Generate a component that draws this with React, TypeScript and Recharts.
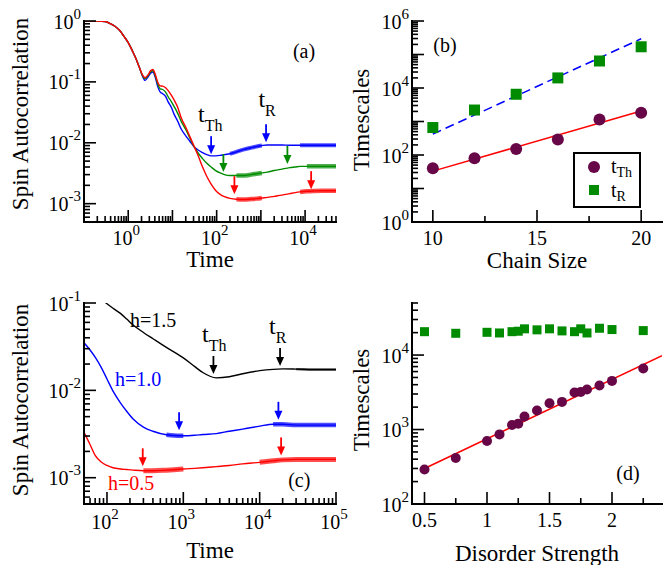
import React from "react";
import { ComposedChart, Line, Scatter, XAxis, YAxis, Legend } from "recharts";

const FONT = '"Liberation Serif", "Times New Roman", serif';
const BLUE = "#0000ff";
const GREEN = "#008b00";
const RED = "#ff0000";
const MAROON = "#670748";
const BLACK = "#000000";

// ---------- panel (a): autocorrelation vs time, three chain sizes ----------
const aTime = [0.1, 0.2, 0.3, 0.4, 0.5, 0.65, 0.8, 1, 1.25, 1.5, 1.8, 2.1, 2.4, 2.8, 3.2, 3.6, 4.1, 4.7, 5.3, 6, 7, 8, 9.5, 11, 13, 16, 20, 25, 30, 38, 48, 60, 75, 95, 120, 150, 200, 280, 400, 600, 800, 1050, 1400, 2000, 3000, 4500, 6000, 7700, 11000, 16000, 24000, 35000, 50000];
const aBlue = [1, 0.995, 0.98, 0.9, 0.82, 0.69, 0.56, 0.44, 0.32, 0.24, 0.17, 0.124, 0.106, 0.12, 0.138, 0.145, 0.118, 0.082, 0.068, 0.064, 0.058, 0.047, 0.038, 0.029, 0.023, 0.0165, 0.013, 0.0105, 0.0088, 0.0076, 0.0069, 0.0064, 0.0061, 0.0061, 0.0062, 0.0064, 0.0066, 0.0071, 0.0077, 0.0083, 0.0087, 0.009, 0.0092, 0.0092, 0.0092, 0.0091, 0.0091, 0.0091, 0.0091, 0.0091, 0.0091, 0.0091, 0.0091];
const aGreen = [1, 0.995, 0.98, 0.9, 0.82, 0.69, 0.56, 0.44, 0.32, 0.24, 0.17, 0.127, 0.112, 0.126, 0.146, 0.152, 0.125, 0.09, 0.077, 0.075, 0.068, 0.057, 0.047, 0.039, 0.031, 0.022, 0.0165, 0.0118, 0.009, 0.0068, 0.0055, 0.0046, 0.004, 0.0035, 0.0032, 0.003, 0.0029, 0.0029, 0.0029, 0.003, 0.0031, 0.0032, 0.0033, 0.0035, 0.0037, 0.0039, 0.004, 0.0041, 0.0041, 0.0041, 0.0041, 0.0041, 0.0041];
const aRed = [1, 0.995, 0.98, 0.9, 0.82, 0.69, 0.56, 0.44, 0.32, 0.24, 0.17, 0.13, 0.117, 0.13, 0.152, 0.16, 0.132, 0.097, 0.086, 0.085, 0.08, 0.072, 0.06, 0.05, 0.039, 0.025, 0.018, 0.0125, 0.0092, 0.0062, 0.004, 0.0028, 0.0021, 0.00165, 0.00142, 0.0013, 0.00122, 0.00118, 0.00117, 0.00119, 0.00121, 0.00124, 0.00127, 0.00132, 0.00138, 0.00146, 0.00152, 0.00156, 0.0016, 0.00162, 0.00163, 0.00163, 0.00163];
// time windows where the curves are visibly fluctuating
const aBlueNoisy = [[200, 1050], [7700, 50000]];
const aGreenNoisy = [[280, 1050], [11000, 50000]];
const aRedNoisy = [[280, 1050], [7700, 50000]];
const aBlueArrows = [{ x: 75, y: 0.0065 }, { x: 1310, y: 0.0102 }];
const aGreenArrows = [{ x: 142, y: 0.0033 }, { x: 3980, y: 0.0045 }];
const aRedArrows = [{ x: 252, y: 0.00143 }, { x: 13700, y: 0.00173 }];
const aTimeNotes = [{ x: 38, y: 0.0223, text: "t", sub: "Th" }, { x: 878, y: 0.0383, text: "t", sub: "R" }];
const aPanelNote = [{ x: 5300, y: 0.246, text: "(a)" }];
const aXDecades = [0.1, 1, 10, 100, 1000, 10000];
const aXLabels = [1, 100, 10000];
const aYDecades = [0.0001, 0.001, 0.01, 0.1, 1];
const aYLabels = [0.001, 0.01, 0.1, 1];

// ---------- panel (b): timescales vs chain size ----------
const bSize = [10, 12, 14, 16, 18, 20];
const bTh = [40, 80, 150, 290, 1150, 1820];
const bR = [660, 2200, 6500, 20000, 64000, 170000];
const bFitSize = [10, 20];
const bThFit = [33, 2050];
const bRFit = [420, 295000];
const bPanelNote = [{ x: 10.02, y: 120000, text: "(b)" }];
const bXTicks = [10, 12.5, 15, 17.5, 20];
const bXLabels = [10, 15, 20];
const bYDecades = [1, 10, 100, 1000, 10000, 100000, 1000000];
const bYLabels = [1, 100, 10000, 1000000];

// ---------- panel (c): autocorrelation vs time, three disorder strengths ----------
const cTime = [50, 60, 70, 85, 100, 120, 150, 180, 220, 300, 400, 600, 900, 1000, 1400, 1800, 2700, 4000, 6000, 10000, 15000, 20000, 30000, 50000, 100000];
const cBlack = [0.17, 0.145, 0.125, 0.11, 0.098, 0.087, 0.076, 0.066, 0.056, 0.046, 0.039, 0.031, 0.025, 0.0235, 0.0188, 0.016, 0.0139, 0.0143, 0.0155, 0.0168, 0.0174, 0.0176, 0.0175, 0.0173, 0.0173];
const cBlue = [0.035, 0.029, 0.024, 0.018, 0.0135, 0.0098, 0.0072, 0.0058, 0.0047, 0.0038, 0.0034, 0.0031, 0.00302, 0.00302, 0.00306, 0.00312, 0.0032, 0.0034, 0.0036, 0.0039, 0.0041, 0.0041, 0.004, 0.004, 0.004];
const cRed = [0.0033, 0.0024, 0.0018, 0.0015, 0.00138, 0.0013, 0.00126, 0.00124, 0.00122, 0.0012, 0.0012, 0.00122, 0.00125, 0.00126, 0.00128, 0.0013, 0.00134, 0.00138, 0.00144, 0.0015, 0.00156, 0.0016, 0.00162, 0.00162, 0.00162];
const cBlackNoisy = [[30000, 100000]];
const cBlueNoisy = [[600, 1000], [15000, 100000]];
const cRedNoisy = [[300, 1000], [10000, 100000]];
const cBlackArrows = [{ x: 2480, y: 0.0154 }, { x: 18500, y: 0.019 }];
const cBlueArrows = [{ x: 880, y: 0.0035 }, { x: 17600, y: 0.0046 }];
const cRedArrows = [{ x: 294, y: 0.00135 }, { x: 19100, y: 0.0018 }];
const cTimeNotes = [{ x: 1760, y: 0.036, text: "t", sub: "Th" }, { x: 13300, y: 0.0446, text: "t", sub: "R" }];
const cBlackNote = [{ x: 200, y: 0.0536, text: "h=1.5" }];
const cBlueNote = [{ x: 127, y: 0.0111, text: "h=1.0" }];
const cRedNote = [{ x: 103, y: 0.00073, text: "h=0.5" }];
const cPanelNote = [{ x: 23600, y: 0.00079, text: "(c)" }];
const cXDecades = [10, 100, 1000, 10000, 100000];
const cXLabels = [100, 1000, 10000, 100000];
const cYDecades = [0.0001, 0.001, 0.01, 0.1];
const cYLabels = [0.001, 0.01, 0.1];

// ---------- panel (d): timescales vs disorder strength ----------
const dH = [0.5, 0.75, 1.0, 1.1, 1.2, 1.25, 1.3, 1.4, 1.5, 1.6, 1.7, 1.75, 1.8, 1.9, 2.0, 2.25];
const dTh = [290, 415, 700, 860, 1150, 1200, 1500, 1800, 2250, 2350, 3150, 3200, 3450, 3900, 4500, 6600];
const dR = [20600, 19600, 20200, 19800, 20600, 20900, 22500, 21800, 22500, 21100, 20600, 22500, 19800, 22900, 22000, 21300];
const dFitH = [0.5, 2.4];
const dThFit = [300, 9800];
const dPanelNote = [{ x: 2.034, y: 209, text: "(d)" }];
const dXTicks = [0.5, 0.75, 1, 1.25, 1.5, 1.75, 2, 2.25];
const dXLabels = [0.5, 1, 1.5, 2];
const dYDecades = [10, 100, 1000, 10000];
const dYLabels = [100, 1000, 10000];

// ---------- helpers ----------
const same = (a: number, b: number) => Math.abs(a - b) <= Math.abs(b) * 1e-6;

function logTicks(decades: number[], lo: number, hi: number) {
  const out: number[] = [];
  decades.forEach((d) => {
    for (let k = 1; k < 10; k++) {
      const v = Number((d * k).toPrecision(6));
      if (v >= lo * 0.9999 && v <= hi * 1.0001) out.push(v);
    }
  });
  return out;
}

const inRanges = (x: number, ranges: number[][]) => ranges.some(([a, b]) => x >= a && x <= b);

const toPoints = (xs: number[], ys: number[]) => xs.map((x, i) => ({ x, y: ys[i] }));

type Side = "bottom" | "top" | "left" | "right";
type TickSpec = { side: Side; major: number[]; labels?: number[]; log?: boolean; gap?: number };

function makeTick(spec: TickSpec) {
  return (props: any) => {
    const { x, y, payload } = props;
    const v = Number(payload.value);
    const len = spec.major.some((m) => same(v, m)) ? 12 : 6;
    let x2 = x;
    let y2 = y;
    if (spec.side === "bottom") y2 = y - len;
    if (spec.side === "top") y2 = y + len;
    if (spec.side === "left") x2 = x + len;
    if (spec.side === "right") x2 = x - len;
    let label = null;
    if (spec.labels && spec.labels.some((m) => same(v, m))) {
      const content = spec.log ? (
        <>
          <tspan>10</tspan>
          <tspan dy={-10} fontSize={15}>{Math.round(Math.log10(v))}</tspan>
        </>
      ) : (
        String(v)
      );
      label =
        spec.side === "bottom" ? (
          <text x={x - (spec.log ? 2 : 0)} y={y + (spec.gap ?? 23)} textAnchor="middle" fontFamily={FONT} fontSize={20} fill={BLACK}>
            {content}
          </text>
        ) : (
          <text x={x - 3} y={y + 7.5} textAnchor="end" fontFamily={FONT} fontSize={20} fill={BLACK}>
            {content}
          </text>
        );
    }
    return (
      <g>
        <line x1={x} y1={y} x2={x2} y2={y2} stroke={BLACK} strokeWidth={1.6} />
        {label}
      </g>
    );
  };
}

function XTitle(props: any) {
  const vb = props.viewBox || { x: 0, y: 0, width: 0 };
  return (
    <text x={vb.x + vb.width / 2} y={vb.y + props.dy} textAnchor="middle" fontFamily={FONT} fontSize={23} fill={BLACK}>
      {props.text}
    </text>
  );
}

function YTitle(props: any) {
  const vb = props.viewBox || { x: 0, y: 0, height: 0 };
  const cx = vb.x + props.dx;
  const cy = vb.y + vb.height / 2 + props.dy;
  return (
    <text x={cx} y={cy} transform={`rotate(-90 ${cx} ${cy})`} textAnchor="middle" fontFamily={FONT} fontSize={23} fill={BLACK}>
      {props.text}
    </text>
  );
}

function Arrow(props: any) {
  const { cx, cy, color } = props;
  return (
    <g>
      <line x1={cx} y1={cy - 18} x2={cx} y2={cy - 7} stroke={color} strokeWidth={1.8} />
      <path d={`M${cx - 4},${cy - 9} L${cx + 4},${cy - 9} L${cx},${cy} Z`} fill={color} />
    </g>
  );
}

function Note(props: any) {
  const { cx, cy, payload, color, size, subSize, subDy } = props;
  return (
    <text x={cx} y={cy} fill={color} fontFamily={FONT} fontSize={size}>
      {payload.text}
      {payload.sub ? (
        <tspan fontSize={subSize} dy={subDy}>
          {payload.sub}
        </tspan>
      ) : null}
    </text>
  );
}

const AXIS = { stroke: BLACK, strokeWidth: 2, strokeLinecap: "square" as const };

type FrameCfg = {
  xDomain: number[];
  xTicks: number[];
  xMajor: number[];
  xLabels: number[];
  xLog: boolean;
  xGap: number;
  xTitle: string;
  xTitleDy: number;
  xHeight: number;
  yDomain: number[];
  yTicks: number[];
  yMajor: number[];
  yLabels: number[];
  yTitle: string;
  yTitleDx: number;
  yTitleDy: number;
  yWidth: number;
};

function frameAxes(c: FrameCfg) {
  const xScale = c.xLog ? "log" : "linear";
  return [
    <XAxis
      key="xb"
      dataKey="x"
      type="number"
      scale={xScale}
      domain={c.xDomain}
      allowDataOverflow
      ticks={c.xTicks}
      interval={0}
      tickSize={0}
      tickMargin={0}
      tickLine={false}
      axisLine={AXIS}
      tick={makeTick({ side: "bottom", major: c.xMajor, labels: c.xLabels, log: c.xLog, gap: c.xGap })}
      height={c.xHeight}
      label={<XTitle text={c.xTitle} dy={c.xTitleDy} />}
    />,
    <XAxis
      key="xt"
      xAxisId="top"
      orientation="top"
      dataKey="x"
      type="number"
      scale={xScale}
      domain={c.xDomain}
      allowDataOverflow
      ticks={c.xTicks}
      interval={0}
      tickSize={0}
      tickMargin={0}
      tickLine={false}
      axisLine={AXIS}
      tick={makeTick({ side: "top", major: c.xMajor })}
      height={0}
    />,
    <YAxis
      key="yl"
      type="number"
      scale="log"
      domain={c.yDomain}
      allowDataOverflow
      ticks={c.yTicks}
      interval={0}
      tickSize={0}
      tickMargin={0}
      tickLine={false}
      axisLine={AXIS}
      tick={makeTick({ side: "left", major: c.yMajor, labels: c.yLabels, log: true })}
      width={c.yWidth}
      label={<YTitle text={c.yTitle} dx={c.yTitleDx} dy={c.yTitleDy} />}
    />,
    <YAxis
      key="yr"
      yAxisId="right"
      orientation="right"
      type="number"
      scale="log"
      domain={c.yDomain}
      allowDataOverflow
      ticks={c.yTicks}
      interval={0}
      tickSize={0}
      tickMargin={0}
      tickLine={false}
      axisLine={AXIS}
      tick={makeTick({ side: "right", major: c.yMajor })}
      width={0}
    />,
  ];
}

function curve(key: string, color: string) {
  return (
    <Line key={key} dataKey={key} type="monotone" stroke={color} strokeWidth={1.4} dot={false} isAnimationActive={false} />
  );
}

function noisy(key: string, ranges: number[][], color: string, width: number) {
  return (
    <Line
      key={key + "-noise"}
      dataKey={(d: any) => (inRanges(d.x, ranges) ? d[key] : null)}
      type="monotone"
      stroke={color}
      strokeOpacity={0.7}
      strokeWidth={width}
      dot={false}
      isAnimationActive={false}
    />
  );
}

function arrows(name: string, data: { x: number; y: number }[], color: string) {
  return (
    <Scatter key={name} name={name} data={data} dataKey="y" fill={color} isAnimationActive={false} shape={(p: any) => <Arrow cx={p.cx} cy={p.cy} color={color} />} />
  );
}

function notes(name: string, data: any[], color: string, size: number, subSize = 16, subDy = 9) {
  return (
    <Scatter
      key={name}
      name={name}
      data={data}
      dataKey="y"
      fill={color}
      isAnimationActive={false}
      shape={(p: any) => <Note cx={p.cx} cy={p.cy} payload={p.payload} color={color} size={size} subSize={subSize} subDy={subDy} />}
    />
  );
}

function dots(name: string, data: { x: number; y: number }[], color: string, kind: "circle" | "square", size: number) {
  return (
    <Scatter
      key={name}
      name={name}
      data={data}
      dataKey="y"
      fill={color}
      isAnimationActive={false}
      shape={(p: any) =>
        kind === "circle" ? (
          <circle cx={p.cx} cy={p.cy} r={size / 2} fill={color} />
        ) : (
          <rect x={p.cx - size / 2} y={p.cy - size / 2} width={size} height={size} fill={color} />
        )
      }
    />
  );
}

// ---------- panels ----------
const aRows = aTime.map((x, i) => ({ x, blue: aBlue[i], green: aGreen[i], red: aRed[i] }));
const cRows = cTime.map((x, i) => ({ x, black: cBlack[i], blue: cBlue[i], red: cRed[i] }));

function PanelA() {
  return (
    <ComposedChart width={360} height={282} data={aRows} margin={{ top: 21, right: 24, bottom: 0, left: 0 }}>
      {frameAxes({
        xDomain: [0.1, 50000],
        xTicks: logTicks(aXDecades, 0.1, 50000),
        xMajor: aXDecades,
        xLabels: aXLabels,
        xLog: true,
        xGap: 23,
        xTitle: "Time",
        xTitleDy: 45,
        xHeight: 60,
        yDomain: [0.0005, 1],
        yTicks: logTicks(aYDecades, 0.0005, 1),
        yMajor: aYDecades,
        yLabels: aYLabels,
        yTitle: "Spin Autocorrelation",
        yTitleDx: 28,
        yTitleDy: -7.5,
        yWidth: 84,
      })}
      {curve("blue", BLUE)}
      {curve("green", GREEN)}
      {curve("red", RED)}
      {noisy("blue", aBlueNoisy, BLUE, 4)}
      {noisy("green", aGreenNoisy, GREEN, 4.5)}
      {noisy("red", aRedNoisy, RED, 4.5)}
      {arrows("a-blue-arrows", aBlueArrows, BLUE)}
      {arrows("a-green-arrows", aGreenArrows, GREEN)}
      {arrows("a-red-arrows", aRedArrows, RED)}
      {notes("a-times", aTimeNotes, BLACK, 24)}
      {notes("a-panel", aPanelNote, BLACK, 20)}
    </ComposedChart>
  );
}

function BLegend() {
  return (
    <svg width={68} height={56} style={{ display: "block" }}>
      <rect x={1} y={1} width={66} height={54} fill="#fff" stroke={BLACK} strokeWidth={2} />
      <circle cx={21} cy={15} r={6} fill={MAROON} />
      <text x={38} y={21} fontFamily={FONT} fontSize={20} fill={BLACK}>
        t<tspan fontSize={14} dy={4}>Th</tspan>
      </text>
      <rect x={16} y={33} width={10} height={10} fill={GREEN} />
      <text x={38} y={45} fontFamily={FONT} fontSize={20} fill={BLACK}>
        t<tspan fontSize={14} dy={4}>R</tspan>
      </text>
    </svg>
  );
}

function PanelB() {
  return (
    <ComposedChart width={332} height={282} margin={{ top: 21, right: 10, bottom: 0, left: 0 }}>
      {frameAxes({
        xDomain: [9, 21],
        xTicks: bXTicks,
        xMajor: bXLabels,
        xLabels: bXLabels,
        xLog: false,
        xGap: 23,
        xTitle: "Chain Size",
        xTitleDy: 46,
        xHeight: 60,
        yDomain: [1, 1000000],
        yTicks: logTicks(bYDecades, 1, 1000000),
        yMajor: bYDecades,
        yLabels: bYLabels,
        yTitle: "Timescales",
        yTitleDx: 29,
        yTitleDy: -1.5,
        yWidth: 72,
      })}
      <Line data={toPoints(bFitSize, bThFit)} dataKey="y" stroke={RED} strokeWidth={1.5} dot={false} isAnimationActive={false} />
      <Line data={toPoints(bFitSize, bRFit)} dataKey="y" stroke={BLUE} strokeWidth={1.5} strokeDasharray="9 5" dot={false} isAnimationActive={false} />
      {dots("t_Th", toPoints(bSize, bTh), MAROON, "circle", 12)}
      {dots("t_R", toPoints(bSize, bR), GREEN, "square", 11)}
      {notes("b-panel", bPanelNote, BLACK, 20)}
      <Legend layout="vertical" align="center" verticalAlign="middle" wrapperStyle={{ left: 233, top: 152, width: 68, height: 56 }} content={() => <BLegend />} />
    </ComposedChart>
  );
}

function PanelC() {
  return (
    <ComposedChart width={360} height={283} data={cRows} margin={{ top: 21, right: 24, bottom: 0, left: 0 }}>
      {frameAxes({
        xDomain: [50, 100000],
        xTicks: logTicks(cXDecades, 50, 100000),
        xMajor: cXDecades,
        xLabels: cXLabels,
        xLog: true,
        xGap: 25,
        xTitle: "Time",
        xTitleDy: 54,
        xHeight: 61,
        yDomain: [0.0005, 0.1],
        yTicks: logTicks(cYDecades, 0.0005, 0.1),
        yMajor: cYDecades,
        yLabels: cYLabels,
        yTitle: "Spin Autocorrelation",
        yTitleDx: 28,
        yTitleDy: -3.5,
        yWidth: 84,
      })}
      {curve("black", BLACK)}
      {curve("blue", BLUE)}
      {curve("red", RED)}
      {noisy("black", cBlackNoisy, BLACK, 2.2)}
      {noisy("blue", cBlueNoisy, BLUE, 4.5)}
      {noisy("red", cRedNoisy, RED, 5)}
      {arrows("c-black-arrows", cBlackArrows, BLACK)}
      {arrows("c-blue-arrows", cBlueArrows, BLUE)}
      {arrows("c-red-arrows", cRedArrows, RED)}
      {notes("c-times", cTimeNotes, BLACK, 24)}
      {notes("c-h15", cBlackNote, BLACK, 20)}
      {notes("c-h10", cBlueNote, BLUE, 20)}
      {notes("c-h05", cRedNote, RED, 20)}
      {notes("c-panel", cPanelNote, BLACK, 20)}
    </ComposedChart>
  );
}

function PanelD() {
  return (
    <ComposedChart width={332} height={283} margin={{ top: 21, right: 10, bottom: 0, left: 0 }}>
      {frameAxes({
        xDomain: [0.4, 2.4],
        xTicks: dXTicks,
        xMajor: dXLabels,
        xLabels: dXLabels,
        xLog: false,
        xGap: 23,
        xTitle: "Disorder Strength",
        xTitleDy: 57,
        xHeight: 61,
        yDomain: [100, 50000],
        yTicks: logTicks(dYDecades, 100, 50000),
        yMajor: dYDecades,
        yLabels: dYLabels,
        yTitle: "Timescales",
        yTitleDx: 29,
        yTitleDy: -3.5,
        yWidth: 72,
      })}
      <Line data={toPoints(dFitH, dThFit)} dataKey="y" stroke={RED} strokeWidth={1.5} dot={false} isAnimationActive={false} />
      {dots("d-th", toPoints(dH, dTh), MAROON, "circle", 10)}
      {dots("d-r", toPoints(dH, dR), GREEN, "square", 9)}
      {notes("d-panel", dPanelNote, BLACK, 20)}
    </ComposedChart>
  );
}

export default function App() {
  return (
    <div style={{ position: "absolute", left: 0, top: 0, width: 672, height: 565, background: "#fff", fontFamily: FONT }}>
      <div style={{ position: "absolute", left: 0, top: 0 }}>
        <PanelA />
      </div>
      <div style={{ position: "absolute", left: 0, top: 282 }}>
        <PanelC />
      </div>
      <div style={{ position: "absolute", left: 340, top: 0 }}>
        <PanelB />
      </div>
      <div style={{ position: "absolute", left: 340, top: 282 }}>
        <PanelD />
      </div>
    </div>
  );
}
